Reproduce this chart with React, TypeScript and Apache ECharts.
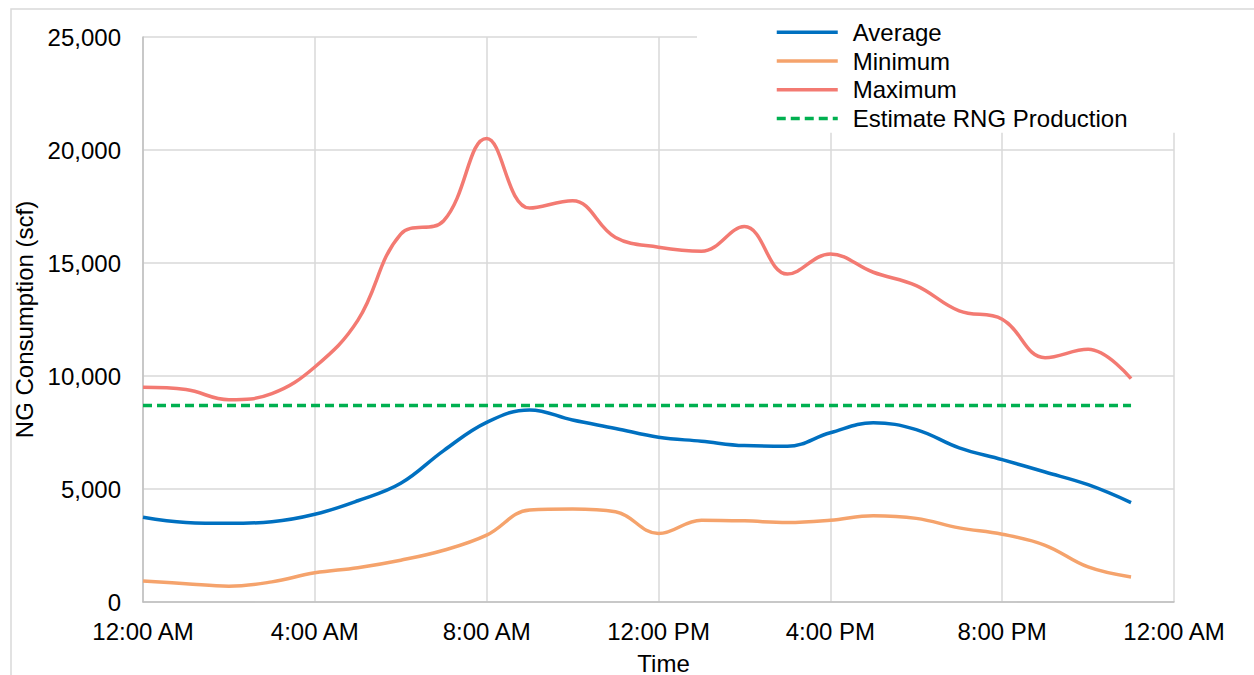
import React, { useEffect, useRef } from "react";
import * as echarts from "echarts";

const hours = [0, 1, 2, 3, 4, 5, 6, 7, 8, 9, 10, 11, 12, 13, 14, 15, 16, 17, 18, 19, 20, 21, 22, 23];
const tickLabels = ["12:00 AM", "4:00 AM", "8:00 AM", "12:00 PM", "4:00 PM", "8:00 PM", "12:00 AM"];
const averageValues = [3750, 3520, 3480, 3550, 3880, 4480, 5250, 6700, 7950, 8500, 8050, 7680, 7290, 7115, 6920, 6890, 7490, 7930, 7630, 6820, 6300, 5750, 5190, 4400];
const minimumValues = [930, 810, 700, 890, 1290, 1520, 1850, 2290, 2960, 4070, 4110, 3990, 3030, 3620, 3590, 3520, 3620, 3820, 3700, 3280, 3000, 2510, 1550, 1110];
const maximumValues = [9500, 9400, 8950, 9220, 10400, 12460, 16280, 16870, 20510, 17430, 17750, 16130, 15700, 15520, 16610, 14510, 15400, 14590, 14000, 12880, 12510, 10810, 11180, 9880];
const rngValues = [8700, 8700, 8700, 8700, 8700, 8700, 8700, 8700, 8700, 8700, 8700, 8700, 8700, 8700, 8700, 8700, 8700, 8700, 8700, 8700, 8700, 8700, 8700, 8700];

const FONT = "Liberation Sans, Arial, sans-serif";
const FS = 24;
const LW = 3.5;

const pairs = (vals: number[]) => hours.map((h, i) => [h, vals[i]]);

export default function App() {
  const ref = useRef<HTMLDivElement>(null);
  useEffect(() => {
    if (!ref.current) return;
    const chart = echarts.init(ref.current, undefined, { renderer: "svg" });
    chart.setOption({
      animation: false,
      backgroundColor: "#fff",
      textStyle: { fontFamily: FONT, color: "#000" },
      graphic: [
        {
          type: "rect",
          shape: { x: 11, y: 9, width: 1300, height: 700 },
          style: { fill: "none", stroke: "#d9d9d9", lineWidth: 1.5 },
          silent: true,
          z: -1,
        },
      ],
      grid: { left: 143, right: 80, top: 37, bottom: 73, containLabel: false, outerBoundsMode: "none" },
      legend: {
        orient: "vertical",
        left: 697,
        top: 13,
        padding: [5, 55, 0, 78],
        backgroundColor: "#fff",
        itemWidth: 61,
        itemHeight: 14,
        itemGap: 0,
        z: 10,
        itemStyle: { opacity: 0 },
        lineStyle: { width: LW },
        textStyle: { fontFamily: FONT, fontSize: FS, color: "#000", lineHeight: 28.7, padding: [0, 0, 0, 10] },
        data: ["Average", "Minimum", "Maximum", "Estimate RNG Production"],
      },
      xAxis: {
        type: "value",
        min: 0,
        max: 24,
        interval: 4,
        name: "Time",
        nameLocation: "middle",
        nameGap: 52,
        nameTextStyle: { fontFamily: FONT, fontSize: FS, color: "#000", lineHeight: 18, padding: [0, 0, 0, 10] },
        axisLine: { show: true, lineStyle: { color: "#bfbfbf", width: 1.5 } },
        axisTick: { show: false },
        axisLabel: {
          fontFamily: FONT,
          fontSize: FS,
          color: "#000",
          margin: 17,
          formatter: (v: number) => tickLabels[Math.round(v / 4)] ?? "",
        },
        splitLine: { show: true, lineStyle: { color: "#d9d9d9", width: 1.5 } },
      },
      yAxis: {
        type: "value",
        min: 0,
        max: 25000,
        interval: 5000,
        name: "NG Consumption (scf)",
        nameLocation: "middle",
        nameGap: 100,
        nameTextStyle: { fontFamily: FONT, fontSize: FS, color: "#000" },
        axisLine: { show: true, lineStyle: { color: "#bfbfbf", width: 1.5 } },
        axisTick: { show: false },
        axisLabel: {
          fontFamily: FONT,
          fontSize: FS,
          color: "#000",
          margin: 22,
          formatter: (v: number) => v.toLocaleString("en-US"),
        },
        splitLine: { show: true, lineStyle: { color: "#d9d9d9", width: 1.5 } },
      },
      series: [
        {
          name: "Average",
          type: "line",
          data: pairs(averageValues),
          smooth: 0.4,
          symbol: "none",
          lineStyle: { color: "#0070c0", width: LW },
          itemStyle: { color: "#0070c0" },
        },
        {
          name: "Minimum",
          type: "line",
          data: pairs(minimumValues),
          smooth: 0.4,
          symbol: "none",
          lineStyle: { color: "#f5a36c", width: LW },
          itemStyle: { color: "#f5a36c" },
        },
        {
          name: "Maximum",
          type: "line",
          data: pairs(maximumValues),
          smooth: 0.4,
          symbol: "none",
          lineStyle: { color: "#f37a72", width: LW },
          itemStyle: { color: "#f37a72" },
        },
        {
          name: "Estimate RNG Production",
          type: "line",
          data: pairs(rngValues),
          symbol: "none",
          lineStyle: { color: "#00b050", width: LW, type: [9, 5] },
          itemStyle: { color: "#00b050" },
        },
      ],
    });
    return () => chart.dispose();
  }, []);
  return (
    <div
      ref={ref}
      style={{ position: "absolute", left: 0, top: 0, width: 1254, height: 675 }}
    />
  );
}
